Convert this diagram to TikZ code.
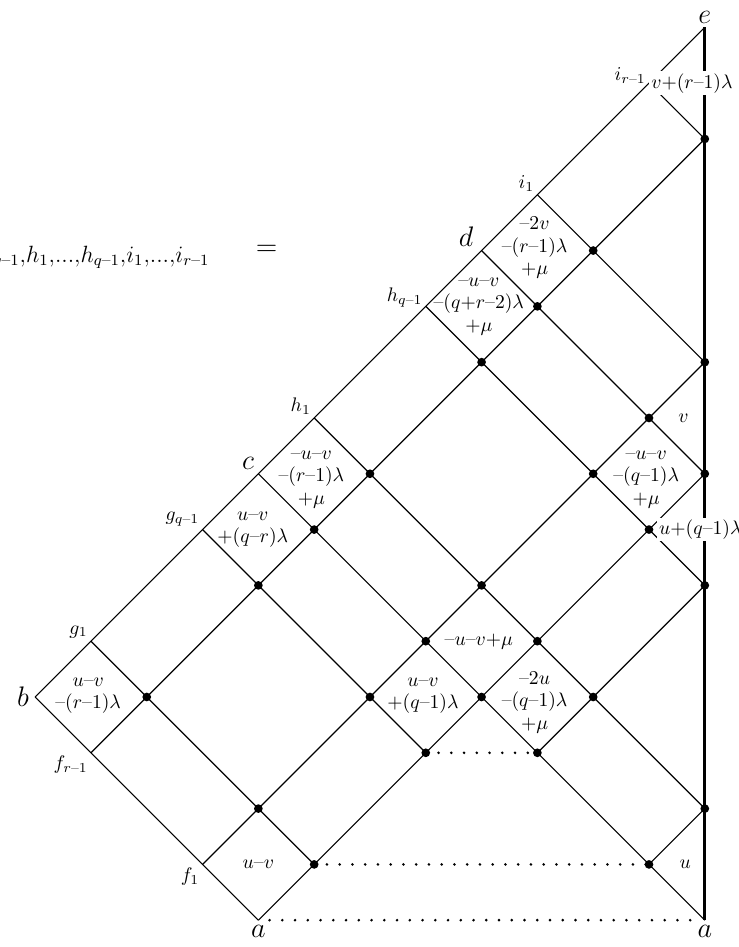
\documentclass[tikz,border=0pt]{standalone}
\usepackage{amsmath}
\usetikzlibrary{calc}
\newcommand{\mn}{\mathord{\text{--}}}
\newcommand{\pl}{\mathord{+}}
\begin{document}
\begin{tikzpicture}[x=1cm,y=1cm,
  ln/.style={line width=0.6pt},
  wall/.style={line width=1.5pt},
  dotl/.style={line width=1.5pt, dash pattern=on 0pt off 6.5pt, line cap=round},
  big/.style={font=\Large, inner sep=2.5pt},
  sub/.style={font=\normalsize, inner sep=1.5pt},
  lab/.style={align=center, font=\fontsize{10}{11.5}\selectfont, inner sep=0pt},
  wlab/.style={font=\normalsize, fill=white, inner sep=1pt}]
\useasboundingbox (-12.63,-0.48) rectangle (0.61,16.49);
% boundary and grid coordinates
\coordinate (a1) at (-8,0);
\coordinate (a2) at (0,0);
\coordinate (b) at (-12,4);
\coordinate (e) at (0,16);
\coordinate (f1) at (-9,1);
\coordinate (fr) at (-11,3);
\coordinate (g1) at (-11,5);
\coordinate (gq) at (-9,7);
\coordinate (c) at (-8,8);
\coordinate (h1) at (-7,9);
\coordinate (hq) at (-5,11);
\coordinate (d) at (-4,12);
\coordinate (i1) at (-3,13);
\coordinate (ir) at (-1,15);
\coordinate (w2) at (0,2);
\coordinate (w6) at (0,6);
\coordinate (w8) at (0,8);
\coordinate (w10) at (0,10);
\coordinate (w14) at (0,14);
\coordinate (p71) at (-7,1);
\coordinate (p11) at (-1,1);
\coordinate (p53) at (-5,3);
\coordinate (p33) at (-3,3);
\coordinate (p17) at (-1,7);
% NE lines
\draw[ln] (b) -- (e);
\draw[ln] (fr) -- (w14);
\draw[ln] (f1) -- (w10);
\draw[ln] (a1) -- (w8);
\draw[ln] (p33) -- (w6);
\draw[ln] (p11) -- (w2);
% NW lines
\draw[ln] (a1) -- (b);
\draw[ln] (p71) -- (g1);
\draw[ln] (p53) -- (gq);
\draw[ln] (a2) -- (c);
\draw[ln] (w2) -- (h1);
\draw[ln] (w6) -- (hq);
\draw[ln] (w8) -- (d);
\draw[ln] (w10) -- (i1);
\draw[ln] (w14) -- (ir);
% wall
\draw[wall] (a2) -- (e);
% dotted identifications
\draw[dotl] ($(a1)+(0.2,0)$) -- ($(a2)+(-0.1,0)$);
\draw[dotl] (p71) -- (p11);
\draw[dotl] (p53) -- (p33);
% dots
\foreach \p in {(-10,4),(-8,6),(-7,7),(-6,8),(-4,10),(-3,11),(-2,12),(0,14),
                (-8,2),(-6,4),(-5,5),(-4,6),(-2,8),(-1,9),(0,10),
                (-7,1),(-5,3),(-4,4),(-3,5),(-1,7),(0,8),
                (-3,3),(-2,4),(0,6),(-1,1),(0,2)}
  \fill \p circle (0.078);
% big letters
\node[big, anchor=north] (la1) at (a1) {$a$};
\node[big, anchor=north] (la2) at (a2) {$a$};
\node[big, anchor=east, inner sep=3pt] (lb) at (b) {$b$};
\node[big, anchor=south east, inner sep=2pt] (lc) at (c) {$c$};
\node[big, anchor=south east, inner sep=2pt, xshift=-2pt] (ld) at (d) {$d$};
\node[big, anchor=south, inner sep=2pt] (le) at (e) {$e$};
% boundary sub labels
\node[sub, anchor=north east] (lf1) at (f1) {$f_1$};
\node[sub, anchor=north east] (lfr) at (fr) {$f_{r\mn1}$};
\node[sub, anchor=south east] (lg1) at (g1) {$g_1$};
\node[sub, anchor=south east] (lgq) at (gq) {$g_{q\mn1}$};
\node[sub, anchor=south east] (lh1) at (h1) {$h_1$};
\node[sub, anchor=south east, yshift=-2pt] (lhq) at (hq) {$h_{q\mn1}$};
\node[sub, anchor=south east] (li1) at (i1) {$i_1$};
\node[sub, anchor=south east, yshift=-2pt] (lir) at (ir) {$i_{r\mn1}$};
% region labels
\node[lab] (r1) at (-8,1) {$u\mn v$};
\node[lab] (r2) at (-0.35,1) {$u$};
\node[lab] (r3) at (-11.05,4.02) {$u\mn v$\\$\mn(r\mn1)\lambda$};
\node[lab] (r4) at (-8.1,7) {$u\mn v$\\$\pl(q\mn r)\lambda$};
\node[lab] (r5) at (-7.05,7.9) {$\mn u\mn v$\\$\mn(r\mn1)\lambda$\\$\pl\mu$};
\node[lab] (r6) at (-4.05,11) {$\mn u\mn v$\\$\mn(q\pl r\mn2)\lambda$\\$\pl\mu$};
\node[lab] (r7) at (-3.05,12.05) {$\mn2v$\\$\mn(r\mn1)\lambda$\\$\pl\mu$};
\node[lab] (r8) at (-4.05,5) {$\mn u\mn v\pl\mu$};
\node[lab] (r9) at (-5.05,4.02) {$u\mn v$\\$\pl(q\mn1)\lambda$};
\node[lab] (r10) at (-3.05,3.9) {$\mn2u$\\$\mn(q\mn1)\lambda$\\$\pl\mu$};
\node[lab] (r11) at (-1.05,7.9) {$\mn u\mn v$\\$\mn(q\mn1)\lambda$\\$\pl\mu$};
\node[lab] (r12) at (-0.38,9) {$v$};
\node[wlab, anchor=west] (r13) at (ir) {$v\pl(r\mn1)\lambda$};
\node[wlab, anchor=west, xshift=4pt] (r14) at (p17) {$u\pl(q\mn1)\lambda$};
% formula fragment (cut at the left edge as in the original)
\node[font=\fontsize{16.7}{20}\selectfont, anchor=base east, inner sep=0pt] (frm) at (-8.87,11.79)
  {$\scriptstyle g_{q\mn1},h_1,\ldots,h_{q\mn1},i_1,\ldots,i_{r\mn1}$};
\node[font=\Large, inner sep=0pt] (eq) at (-7.85,12.0) {$=$};
\end{tikzpicture}
\end{document}
